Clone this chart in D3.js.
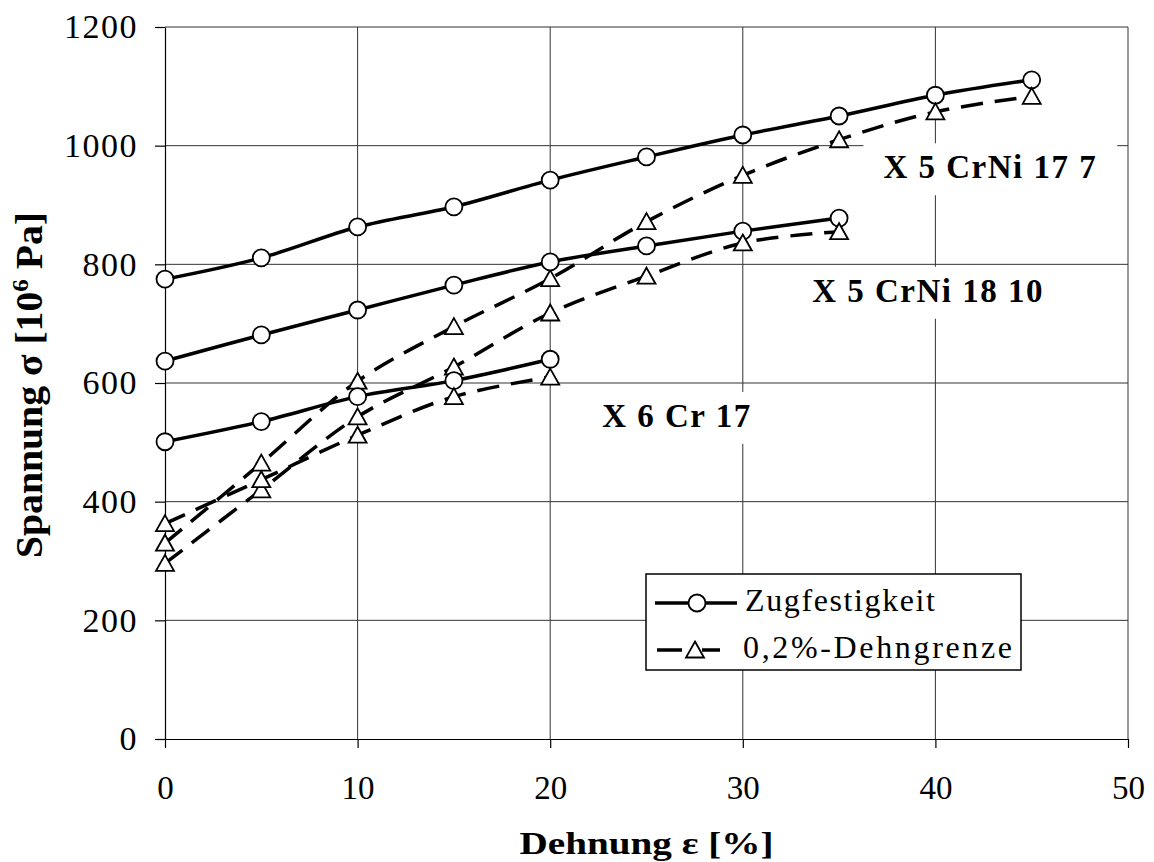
<!DOCTYPE html>
<html>
<head>
<meta charset="utf-8">
<script src="https://cdn.jsdelivr.net/npm/d3@7"></script>
<style>
  body { margin: 0; background: #fff; }
  text { font-family: "Liberation Serif", "Times New Roman", serif; fill: #000; }
</style>
</head>
<body>
<div id="chart"></div>
<script>
// Dehnung (x) in %, Spannung in 10^6 Pa
const dehnung = [0, 5, 10, 15, 20, 25, 30, 35, 40, 45];

const zug_17_7   = [775, 811, 863, 897, 942, 981, 1018, 1050, 1085, 1111];
const dehn_17_7  = [330, 465, 603, 695, 776, 872, 950, 1010, 1057, 1083];
const zug_18_10  = [637, 681, 723, 765, 804, 831, 856, 878];
const dehn_18_10 = [296, 420, 543, 627, 718, 780, 836, 855];
const zug_6_17   = [501, 535, 577, 604, 640];
const dehn_6_17  = [363, 437, 512, 577, 610];

const xTicks = [0, 10, 20, 30, 40, 50];
const yTicks = [0, 200, 400, 600, 800, 1000, 1200];

const labelText = ["X 5 CrNi 17 7", "X 5 CrNi 18 10", "X 6 Cr 17"];
const labelX = [37.3, 33.6, 22.7];
const labelY = [945, 737, 526];

const legendNames = ["Zugfestigkeit", "0,2%-Dehngrenze"];

const width = 1154, height = 862;

const svg = d3.select("#chart").append("svg")
    .attr("width", width)
    .attr("height", height);

svg.append("rect").attr("width", width).attr("height", height).attr("fill", "#fff");

const x = d3.scaleLinear().domain([0, 50]).range([165, 1128]);
const y = d3.scaleLinear().domain([0, 1200]).range([739, 27]);

// grid
svg.append("g").selectAll("line.gx")
    .data(xTicks.slice(1))
    .join("line")
    .attr("x1", d => x(d)).attr("x2", d => x(d))
    .attr("y1", y(0)).attr("y2", y(1200))
    .attr("stroke", "#333").attr("stroke-width", 1);

svg.append("g").selectAll("line.gy")
    .data(yTicks.slice(1))
    .join("line")
    .attr("x1", x(0)).attr("x2", x(50))
    .attr("y1", d => y(d)).attr("y2", d => y(d))
    .attr("stroke", "#333").attr("stroke-width", 1);

// axes
const yAxis = svg.append("g")
    .attr("transform", "translate(" + x(0) + ",0)")
    .call(d3.axisLeft(y).tickValues(yTicks).tickFormat(d3.format("d"))
      .tickSize(10).tickSizeOuter(0).tickPadding(17));
yAxis.selectAll("text")
    .style("font-size", "34px")
    .style("letter-spacing", "1.5px")
    .style("font-family", "Liberation Serif");

const xAxis = svg.append("g")
    .attr("transform", "translate(0," + y(0) + ")")
    .call(d3.axisBottom(x).tickValues(xTicks).tickSize(9).tickSizeOuter(0).tickPadding(28));
xAxis.selectAll("text").style("font-size", "33px").style("font-family", "Liberation Serif");

svg.selectAll(".domain, .tick line").attr("stroke", "#000").attr("stroke-width", 1.2);

// series
const series = [
  { vals: zug_17_7,   dashed: false },
  { vals: dehn_17_7,  dashed: true },
  { vals: zug_18_10,  dashed: false },
  { vals: dehn_18_10, dashed: true },
  { vals: zug_6_17,   dashed: false },
  { vals: dehn_6_17,  dashed: true }
];

const line = d3.line()
    .x((d, i) => x(dehnung[i]))
    .y(d => y(d))
    .curve(d3.curveCatmullRom.alpha(0.5));

svg.append("g").selectAll("path")
    .data(series)
    .join("path")
    .attr("d", s => line(s.vals))
    .attr("fill", "none")
    .attr("stroke", "#000")
    .attr("stroke-width", 3.5)
    .attr("stroke-dasharray", s => s.dashed ? "22,12" : null);

const tri = "M0,-8.5L9,7.5L-9,7.5Z";

series.forEach(s => {
  const g = svg.append("g");
  if (s.dashed) {
    g.selectAll("path")
      .data(s.vals)
      .join("path")
      .attr("d", tri)
      .attr("transform", (d, i) => "translate(" + x(dehnung[i]) + "," + y(d) + ")")
      .attr("fill", "#fff").attr("stroke", "#000").attr("stroke-width", 1.8);
  } else {
    g.selectAll("circle")
      .data(s.vals)
      .join("circle")
      .attr("cx", (d, i) => x(dehnung[i]))
      .attr("cy", d => y(d))
      .attr("r", 8.5)
      .attr("fill", "#fff").attr("stroke", "#000").attr("stroke-width", 1.8);
  }
});

// material labels with white boxes
labelText.forEach((t, i) => {
  const g = svg.append("g");
  const txt = g.append("text")
      .attr("x", x(labelX[i]))
      .attr("y", y(labelY[i]))
      .style("font-size", "33px")
      .style("font-weight", "bold")
      .style("letter-spacing", "1.5px")
      .text(t);
  const bb = txt.node().getBBox();
  g.insert("rect", "text")
      .attr("x", bb.x - 20).attr("y", bb.y - 6)
      .attr("width", bb.width + 40).attr("height", bb.height + 16)
      .attr("fill", "#fff");
});

// axis titles
svg.append("text")
    .attr("x", (x(0) + x(50)) / 2)
    .attr("y", 854)
    .attr("text-anchor", "middle")
    .attr("textLength", 254)
    .attr("lengthAdjust", "spacingAndGlyphs")
    .style("font-size", "32px")
    .style("font-weight", "bold")
    .text("Dehnung ε [%]");

const yt = svg.append("text")
    .attr("transform", "translate(42," + 385 + ") rotate(-90)")
    .attr("text-anchor", "middle")
    .attr("textLength", 346)
    .attr("lengthAdjust", "spacingAndGlyphs")
    .style("font-size", "38px")
    .style("font-weight", "bold");
yt.append("tspan").text("Spannung σ [10");
yt.append("tspan").attr("dy", -14).style("font-size", "24px").text("6");
yt.append("tspan").attr("dy", 14).text(" Pa]");

// legend
const lg = svg.append("g");
lg.append("rect")
    .attr("x", 646).attr("y", 574)
    .attr("width", 375).attr("height", 96)
    .attr("fill", "#fff").attr("stroke", "#000").attr("stroke-width", 1.5);

const rows = [603, 650];
lg.append("line").attr("x1", 655).attr("x2", 737).attr("y1", rows[0]).attr("y2", rows[0])
    .attr("stroke", "#000").attr("stroke-width", 3.5);
lg.append("circle").attr("cx", 697).attr("cy", rows[0]).attr("r", 8.5)
    .attr("fill", "#fff").attr("stroke", "#000").attr("stroke-width", 1.8);
lg.append("line").attr("x1", 657).attr("x2", 720).attr("y1", rows[1]).attr("y2", rows[1])
    .attr("stroke", "#000").attr("stroke-width", 3.5).attr("stroke-dasharray", "25,20");
lg.append("path").attr("d", tri).attr("transform", "translate(695," + rows[1] + ")")
    .attr("fill", "#fff").attr("stroke", "#000").attr("stroke-width", 1.8);

lg.selectAll("text.leg")
    .data(legendNames)
    .join("text")
    .attr("x", (d, i) => i === 0 ? 745 : 743)
    .attr("y", (d, i) => rows[i] + 8)
    .attr("textLength", (d, i) => i === 0 ? 190 : 269)
    .attr("lengthAdjust", "spacing")
    .style("font-size", "32px")
    .text(d => d);
</script>
</body>
</html>
